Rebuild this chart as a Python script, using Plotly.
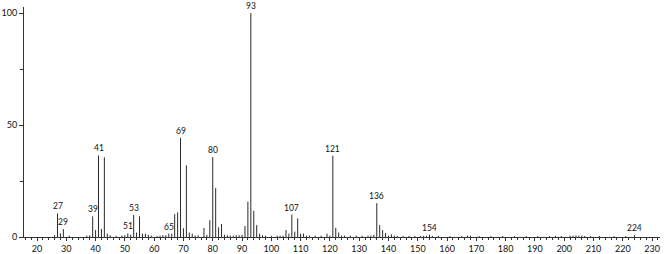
import plotly.graph_objects as go

mz = [26, 27, 28, 29, 31, 37, 38, 39, 40, 41, 42, 43, 44, 45, 47, 49, 50, 51, 52, 53, 54, 55, 56, 57, 58,
      59, 61, 62, 63, 64, 65, 66, 67, 68, 69, 70, 71, 72, 73, 74, 75, 77, 78, 79, 80, 81, 82, 83, 84,
      85, 86, 87, 88, 89, 90, 91, 92, 93, 94, 95, 96, 97, 98, 100, 102, 103, 104, 105, 106, 107, 108, 109,
      110, 111, 112, 113, 115, 117, 119, 120, 121, 122, 123, 124, 125, 127, 129, 131, 133, 134, 135, 136,
      137, 138, 139, 140, 141, 142, 143, 145, 147, 149, 151, 152, 153, 154, 155, 157, 161, 165, 167, 168,
      171, 175, 179, 183, 187, 191, 195, 197, 199, 202, 203, 204, 205, 206, 207, 209, 212, 217, 221, 224]
intensity = [0.8, 10.5, 1.6, 3.5, 0.6, 0.6, 0.8, 9.2, 3.1, 36.4, 3.6, 35.6, 1.5, 0.8, 0.5, 0.6, 0.8, 1.6, 1.0, 9.9,
             2.0, 9.2, 1.5, 1.5, 1.0, 0.6, 0.5, 0.6, 0.8, 0.8, 1.5, 1.5, 10.2, 11.0, 44.3, 3.9, 32.0, 2.0, 1.5,
             0.6, 0.8, 4.0, 1.0, 7.5, 35.7, 21.8, 4.3, 5.8, 1.0, 0.8, 0.6, 0.6, 0.8, 0.8, 1.0, 4.9, 15.8, 100.0,
             11.7, 5.3, 1.5, 0.8, 0.6, 0.5, 0.6, 0.6, 0.6, 3.1, 1.5, 10.0, 2.4, 8.3, 1.5, 1.5, 0.6, 0.6, 0.6, 0.6,
             1.5, 0.6, 36.3, 4.1, 2.0, 0.6, 0.6, 0.6, 0.6, 0.6, 0.6, 0.6, 1.0, 15.1, 5.3, 3.1, 1.8, 0.6, 1.2,
             0.6, 0.5, 0.5, 0.5, 0.5, 0.5, 0.5, 0.5, 1.0, 0.5, 0.5, 0.4, 0.4, 0.6, 0.6, 0.4, 0.4, 0.4, 0.4, 0.4,
             0.4, 0.4, 0.5, 0.4, 0.6, 0.6, 0.7, 0.6, 0.6, 0.5, 0.4, 0.5, 0.4, 0.4, 0.8]
labeled = [27, 29, 39, 41, 51, 53, 65, 69, 80, 93, 107, 121, 136, 154, 224]

xs, ys = [], []
for m, v in zip(mz, intensity):
    xs += [m, m, None]
    ys += [0, v, None]

fig = go.Figure()
fig.add_trace(go.Scatter(x=xs, y=ys, mode="lines", line=dict(color="#2a2a2a", width=1),
                         hoverinfo="skip", showlegend=False))

lookup = dict(zip(mz, intensity))
for m in labeled:
    fig.add_annotation(x=m, y=lookup[m], text=str(m), showarrow=False, yanchor="bottom",
                       yshift=0, font=dict(size=8.5, color="#111", family="Lato"))

fig.update_layout(
    width=666, height=254,
    margin=dict(l=24, r=6, t=7, b=17),
    paper_bgcolor="white", plot_bgcolor="white",
    font=dict(family="Lato", size=9, color="#111"),
    xaxis=dict(range=[15.56, 232.7], tickmode="array", tickvals=list(range(20, 231, 10)),
               ticks="outside", ticklen=3, tickcolor="#333", showline=True, linecolor="#333",
               linewidth=1, showgrid=False, zeroline=False, tickfont=dict(size=9), automargin=False,
               minor=dict(tickvals=list(range(16, 233, 2)), ticks="outside", ticklen=2, tickcolor="#333")),
    yaxis=dict(range=[0, 102.7], tickmode="array", tickvals=[0, 50, 100],
               ticks="outside", ticklen=4, tickcolor="#333", showline=True, linecolor="#333",
               linewidth=1, showgrid=False, zeroline=False, tickfont=dict(size=9), automargin=False,
               minor=dict(tickvals=[25, 75], ticks="outside", ticklen=3, tickcolor="#333")),
)

fig.write_html("out.html")
